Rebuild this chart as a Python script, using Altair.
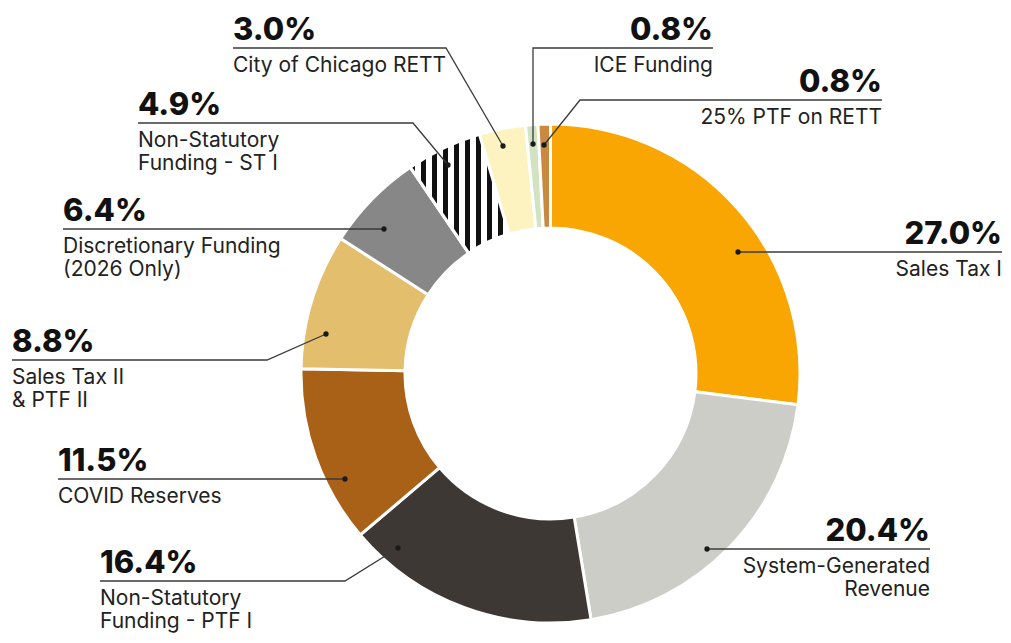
import math
import altair as alt
import pandas as pd

# ---------------- data ----------------
names = [
    "Sales Tax I",
    "System-Generated Revenue",
    "Non-Statutory Funding - PTF I",
    "COVID Reserves",
    "Sales Tax II & PTF II",
    "Discretionary Funding (2026 Only)",
    "Non-Statutory Funding - ST I",
    "City of Chicago RETT",
    "ICE Funding",
    "25% PTF on RETT",
]
shares = [27.0, 20.4, 16.4, 11.5, 8.8, 6.4, 4.9, 3.0, 0.8, 0.8]
descriptions = [
    "Sales Tax I",
    "System-Generated\nRevenue",
    "Non-Statutory\nFunding - PTF I",
    "COVID Reserves",
    "Sales Tax II\n& PTF II",
    "Discretionary Funding\n(2026 Only)",
    "Non-Statutory\nFunding - ST I",
    "City of Chicago RETT",
    "ICE Funding",
    "25% PTF on RETT",
]

# ---------------- styles ----------------
colors = [
    "#F9A602", "#CDCDC8", "#3E3835", "#A86116", "#E3BE6D",
    "#878787", "#FFFFFF", "#FCF3C0", "#D1E3C0", "#C98A40",
]
HATCH_INDEX = 6

# ---------------- annotation layout (page pixels) ----------------
label_x = [1002, 930, 100, 58, 12, 63, 138, 233, 713, 882]
label_side = ["right", "right", "left", "left", "left", "left", "left", "left", "right", "right"]
line_y = [252, 549, 581, 479, 360, 229, 123, 48, 48, 100]
bend_x = [None, None, 345, None, 267, None, 413, 446, 533, 580]
dot_x = [738, 707, 398, 345, 326, 384, 448, 503, 533, 544]
dot_y = [252, 549, 548, 479, 334, 229, 165, 146, 144, 145]

W, H = 995, 627
OX, OY = 8, 8
CX, CY = 550.5, 373.5
R_OUT, R_IN = 249.5, 145.5

df = pd.DataFrame({
    "idx": list(range(len(names))),
    "name": names,
    "share": shares,
    "pct": [f"{v:.1f}%" for v in shares],
    "desc": descriptions,
    "lx": label_x,
    "side": label_side,
    "ly": line_y,
    "dx": dot_x,
    "dy": dot_y,
})

rows = []
for i in range(len(names)):
    pts = [(label_x[i], line_y[i])]
    if bend_x[i] is not None:
        pts.append((bend_x[i], line_y[i]))
    pts.append((dot_x[i], dot_y[i]))
    for s, (px, py) in enumerate(pts):
        rows.append({"name": names[i], "seq": s, "px": px, "py": py})
leaders = pd.DataFrame(rows)

xs = alt.Scale(domain=[OX, OX + W], nice=False, zero=False)
ys = alt.Scale(domain=[OY, OY + H], nice=False, zero=False, reverse=True)
ts = alt.Scale(domain=[0, 100], range=[0, 2 * math.pi])

base = alt.Chart(df).transform_window(
    cum="sum(share)", sort=[alt.SortField("idx", order="ascending")], frame=[None, 0]
).transform_calculate(start="datum.cum - datum.share")

center = dict(
    x=alt.X(datum=CX, type="quantitative", scale=xs, axis=None),
    y=alt.Y(datum=CY, type="quantitative", scale=ys, axis=None),
)

arcs = base.mark_arc(
    outerRadius=R_OUT, innerRadius=R_IN, stroke="white", strokeWidth=3
).encode(
    theta=alt.Theta("start:Q", scale=ts),
    theta2="cum:Q",
    fill=alt.Fill("name:N", scale=alt.Scale(domain=names, range=colors), legend=None),
    **center,
)

# vertical black/white stripes for the hatched slice
N_STRIPES = 9
FRAC = 0.45
stops = []
for k in range(N_STRIPES):
    a = k / N_STRIPES
    m = (k + FRAC) / N_STRIPES
    b = (k + 1) / N_STRIPES
    stops += [
        alt.GradientStop(color="#111111", offset=a),
        alt.GradientStop(color="#111111", offset=m),
        alt.GradientStop(color="#FFFFFF", offset=m),
        alt.GradientStop(color="#FFFFFF", offset=b),
    ]
hatch_fill = alt.LinearGradient(gradient="linear", stops=stops, x1=0, x2=1, y1=0, y2=0)

hatch = base.transform_filter(alt.datum.idx == HATCH_INDEX).mark_arc(
    outerRadius=R_OUT, innerRadius=R_IN, stroke="white", strokeWidth=3, fill=hatch_fill
).encode(
    theta=alt.Theta("start:Q", scale=ts),
    theta2="cum:Q",
    **center,
)

lines = alt.Chart(leaders).mark_line(color="#3a3a3a", strokeWidth=1.3).encode(
    x=alt.X("px:Q", scale=xs, axis=None),
    y=alt.Y("py:Q", scale=ys, axis=None),
    detail="name:N",
    order=alt.Order("seq:Q"),
)

dots = alt.Chart(df).mark_circle(size=28, color="#1a1a1a", opacity=1).encode(
    x=alt.X("dx:Q", scale=xs, axis=None),
    y=alt.Y("dy:Q", scale=ys, axis=None),
)

def text_layers(side):
    src = alt.Chart(df).transform_filter(alt.datum.side == side)
    pos = dict(
        x=alt.X("lx:Q", scale=xs, axis=None),
        y=alt.Y("ly:Q", scale=ys, axis=None),
    )
    pct = src.mark_text(
        align=side, baseline="alphabetic", dy=-8, font="Inter",
        fontSize=31, fontWeight=800, color="#111111",
    ).encode(text="pct:N", **pos)
    desc = src.mark_text(
        align=side, baseline="alphabetic", dy=24, font="Inter",
        fontSize=21, fontWeight=400, color="#222222",
        lineBreak="\n", lineHeight=23,
    ).encode(text="desc:N", **pos)
    return [pct, desc]

chart = alt.layer(
    arcs, hatch, lines, dots, *text_layers("left"), *text_layers("right")
).properties(
    width=W, height=H, padding=0,
    autosize=alt.AutoSizeParams(type="none"),
).configure_view(stroke=None)

chart.save("out.html", embed_options={"renderer": "svg", "actions": False})
